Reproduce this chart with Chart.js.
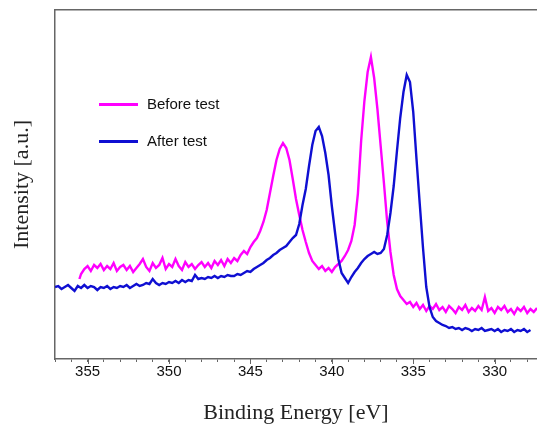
<!DOCTYPE html>
<html lang="en">
<head>
    <meta charset="UTF-8">
    <title>XPS spectrum</title>
    <script src="https://cdn.jsdelivr.net/npm/chart.js"></script>
    <style>
        body {
            margin: 0;
            background-color: #ffffff;
        }
        .wrap {
            position: relative;
            width: 537px;
            height: 424px;
        }
        .legend {
            position: absolute;
            left: 99px;
            font-family: 'Liberation Sans', Arial, sans-serif;
            font-size: 15px;
            color: #111;
        }
        .legend .swatch {
            position: absolute;
            left: 0;
            top: -1px;
            width: 39px;
            height: 3px;
        }
        .legend .label {
            position: absolute;
            left: 48px;
            top: -9px;
            white-space: nowrap;
            line-height: 18px;
        }
    </style>
</head>
<body>
    <div class="wrap">
        <canvas id="xpsChart" width="537" height="424"></canvas>
        <div id="legend"></div>
    </div>

    <script>
        // Binding energy (eV) and intensity (a.u.)
        const beforeEnergy = [
            355.5, 355.4, 355.2, 355.0, 354.8, 354.6, 354.4, 354.2, 354.0, 353.8,
            353.6, 353.4, 353.2, 353.0, 352.8, 352.6, 352.4, 352.2, 352.0, 351.8,
            351.6, 351.4, 351.2, 351.0, 350.8, 350.6, 350.4, 350.2, 350.0, 349.8,
            349.6, 349.4, 349.2, 349.0, 348.8, 348.6, 348.4, 348.2, 348.0, 347.8,
            347.6, 347.4, 347.2, 347.0, 346.8, 346.6, 346.4, 346.2, 346.0, 345.8,
            345.6, 345.4, 345.2, 345.0, 344.8, 344.6, 344.4, 344.2, 344.0, 343.8,
            343.6, 343.4, 343.2, 343.0, 342.8, 342.6, 342.4, 342.2, 342.0, 341.8,
            341.6, 341.4, 341.2, 341.0, 340.8, 340.6, 340.4, 340.2, 340.0, 339.8,
            339.6, 339.4, 339.2, 339.0, 338.8, 338.6, 338.4, 338.2, 338.0, 337.8,
            337.6, 337.4, 337.2, 337.0, 336.8, 336.6, 336.4, 336.2, 336.0, 335.8,
            335.6, 335.4, 335.2, 335.0, 334.8, 334.6, 334.4, 334.2, 334.0, 333.8,
            333.6, 333.4, 333.2, 333.0, 332.8, 332.6, 332.4, 332.2, 332.0, 331.8,
            331.6, 331.4, 331.2, 331.0, 330.8, 330.6, 330.4, 330.2, 330.0, 329.8,
            329.6, 329.4, 329.2, 329.0, 328.8, 328.6, 328.4, 328.2, 328.0, 327.8,
            327.6, 327.4
        ];
        const beforeIntensity = [
            80, 85, 90, 93, 88, 94, 91, 95, 89, 93,
            90, 96, 88, 92, 94, 89, 93, 87, 91, 95,
            100, 92, 88, 96, 91, 94, 101, 90, 95, 92,
            100, 93, 89, 97, 92, 95, 90, 94, 97, 92,
            96, 91, 98, 94, 99, 93, 100, 96, 101, 98,
            104, 108, 105, 112, 117, 121, 128, 137, 149, 166,
            183, 199, 210, 216, 211, 199, 180, 160, 144, 129,
            117, 106, 98, 94, 90, 93, 88, 91, 87, 92,
            95, 98, 103, 109, 118, 134, 165, 218, 258, 287,
            302, 281, 250, 213, 176, 137, 107, 84, 70, 63,
            59, 55, 57, 52, 56, 50, 54, 48, 53, 50,
            55, 49, 52, 47, 53, 50, 46, 52, 49, 54,
            47, 51, 48, 53, 49, 62, 48, 51, 46, 52,
            49, 53, 47, 50, 45, 51, 48, 52, 46, 50,
            47, 51
        ];

        const afterEnergy = [
            357.0, 356.8, 356.6, 356.4, 356.2, 356.0, 355.8, 355.6, 355.4, 355.2,
            355.0, 354.8, 354.6, 354.4, 354.2, 354.0, 353.8, 353.6, 353.4, 353.2,
            353.0, 352.8, 352.6, 352.4, 352.2, 352.0, 351.8, 351.6, 351.4, 351.2,
            351.0, 350.8, 350.6, 350.4, 350.2, 350.0, 349.8, 349.6, 349.4, 349.2,
            349.0, 348.8, 348.6, 348.4, 348.2, 348.0, 347.8, 347.6, 347.4, 347.2,
            347.0, 346.8, 346.6, 346.4, 346.2, 346.0, 345.8, 345.6, 345.4, 345.2,
            345.0, 344.8, 344.6, 344.4, 344.2, 344.0, 343.8, 343.6, 343.4, 343.2,
            343.0, 342.8, 342.6, 342.4, 342.2, 342.0, 341.8, 341.6, 341.4, 341.2,
            341.0, 340.8, 340.6, 340.4, 340.2, 340.0, 339.8, 339.6, 339.4, 339.2,
            339.0, 338.8, 338.6, 338.4, 338.2, 338.0, 337.8, 337.6, 337.4, 337.2,
            337.0, 336.8, 336.6, 336.4, 336.2, 336.0, 335.8, 335.6, 335.4, 335.2,
            335.0, 334.8, 334.6, 334.4, 334.2, 334.0, 333.8, 333.6, 333.4, 333.2,
            333.0, 332.8, 332.6, 332.4, 332.2, 332.0, 331.8, 331.6, 331.4, 331.2,
            331.0, 330.8, 330.6, 330.4, 330.2, 330.0, 329.8, 329.6, 329.4, 329.2,
            329.0, 328.8, 328.6, 328.4, 328.2, 328.0, 327.8
        ];
        const afterIntensity = [
            72, 73, 70, 72, 74, 71, 68, 73, 71, 74,
            71, 73, 72, 69, 72, 71, 73, 70, 72, 71,
            73, 72, 74, 71, 73, 75, 73, 74, 76, 75,
            80, 76, 74, 76, 75, 77, 76, 78, 76, 79,
            77, 79, 78, 84, 80, 81, 80, 82, 81, 83,
            81, 83, 82, 84, 83, 83, 85, 84, 86, 88,
            87, 90, 92, 94, 96, 99, 101, 104, 106, 109,
            111, 113, 117, 121, 124, 135, 154, 170, 193, 214,
            228, 232, 223, 206, 184, 153, 126, 100, 86, 81,
            76, 82, 87, 91, 96, 100, 103, 105, 107, 105,
            106, 110, 124, 146, 173, 208, 241, 267, 284, 277,
            247, 200, 155, 111, 72, 52, 42, 38, 36, 34,
            33, 31, 32, 30, 31, 29, 31, 30, 28, 30,
            29, 31, 28, 29, 30, 28, 30, 27, 29, 28,
            30, 27, 29, 28, 30, 27, 29
        ];

        const seriesLabels = ['Before test', 'After test'];
        const seriesColors = ['#ff00ff', '#0f0fd2'];
        const majorTicks = [355, 350, 345, 340, 335, 330];

        const xMin = 327.4;
        const xMax = 357.0;

        const toPoints = (xs, ys) => xs.map((x, i) => ({ x: x, y: ys[i] }));
        const titleFont = { family: "'Liberation Serif', 'Times New Roman', serif", size: 22, lineHeight: 1 };

        // longer marks for the labelled ticks
        const majorTickPlugin = {
            id: 'majorTicks',
            afterDraw(chart) {
                const scale = chart.scales.x;
                const ctx = chart.ctx;
                ctx.save();
                ctx.strokeStyle = '#666';
                ctx.lineWidth = 1;
                majorTicks.forEach(v => {
                    const px = Math.round(scale.getPixelForValue(v)) + 0.5;
                    ctx.beginPath();
                    ctx.moveTo(px, scale.top);
                    ctx.lineTo(px, scale.top + 5);
                    ctx.stroke();
                });
                ctx.restore();
            }
        };

        const ctx = document.getElementById('xpsChart').getContext('2d');
        const chart = new Chart(ctx, {
            type: 'line',
            data: {
                datasets: [
                    {
                        label: seriesLabels[0],
                        data: toPoints(beforeEnergy, beforeIntensity),
                        borderColor: seriesColors[0],
                        borderWidth: 2.4,
                        pointRadius: 0,
                        tension: 0,
                        order: 1
                    },
                    {
                        label: seriesLabels[1],
                        data: toPoints(afterEnergy, afterIntensity),
                        borderColor: seriesColors[1],
                        borderWidth: 2.4,
                        pointRadius: 0,
                        tension: 0,
                        order: 0
                    }
                ]
            },
            options: {
                responsive: false,
                animation: false,
                layout: { padding: 0 },
                plugins: {
                    legend: { display: false },
                    tooltip: { enabled: false }
                },
                scales: {
                    x: {
                        type: 'linear',
                        position: 'bottom',
                        min: xMin,
                        max: xMax,
                        reverse: true,
                        afterBuildTicks: scale => {
                            const ticks = [];
                            for (let v = Math.ceil(xMin); v <= xMax; v++) ticks.push({ value: v });
                            scale.ticks = ticks;
                        },
                        afterFit: scale => { scale.height = 65; },
                        ticks: {
                            autoSkip: false,
                            maxRotation: 0,
                            padding: 1,
                            color: '#111',
                            font: { family: "'Liberation Sans', Arial, sans-serif", size: 15 },
                            callback: v => majorTicks.includes(v) ? String(v) : ''
                        },
                        grid: {
                            drawOnChartArea: false,
                            drawTicks: true,
                            tickLength: 3,
                            tickColor: '#666'
                        },
                        border: { display: true, color: '#666', width: 1.5 },
                        title: {
                            display: true,
                            text: 'Binding Energy [eV]',
                            color: '#222',
                            padding: { top: 0, bottom: 0 },
                            font: titleFont
                        }
                    },
                    x2: {
                        type: 'linear',
                        position: 'top',
                        min: xMin,
                        max: xMax,
                        reverse: true,
                        afterFit: scale => { scale.height = 10; },
                        ticks: { display: false },
                        grid: { display: false },
                        border: { display: true, color: '#666', width: 1.5 }
                    },
                    y: {
                        type: 'linear',
                        min: 0,
                        max: 349,
                        afterFit: scale => { scale.width = 55; },
                        ticks: { display: false },
                        grid: { display: false },
                        border: { display: true, color: '#666', width: 1.5 },
                        title: {
                            display: true,
                            text: 'Intensity [a.u.]',
                            color: '#222',
                            padding: { top: 11, bottom: 0 },
                            font: titleFont
                        }
                    }
                }
            },
            plugins: [majorTickPlugin]
        });

        // legend drawn inside the plot, like the original
        const legendTops = [104, 141];
        document.getElementById('legend').innerHTML = chart.data.datasets.map((ds, i) => `
            <div class="legend" style="top:${legendTops[i]}px">
                <div class="swatch" style="background:${ds.borderColor}"></div>
                <div class="label">${ds.label}</div>
            </div>
        `).join('');
    </script>
</body>
</html>
